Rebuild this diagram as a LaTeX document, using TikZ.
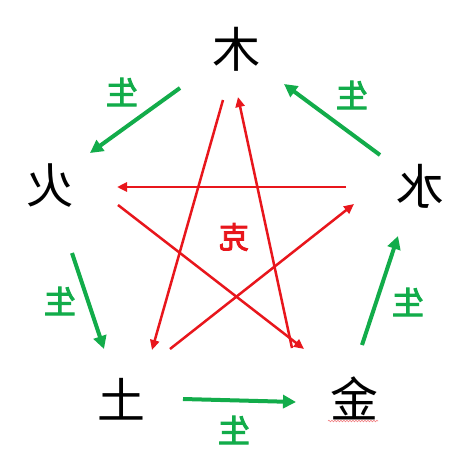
\documentclass[tikz,border=0pt]{standalone}
\usepackage{fontspec}
\newfontfamily\cjk{Noto Sans CJK SC}
\newfontfamily\cjkb[FakeBold=3]{Noto Sans CJK SC}
\usetikzlibrary{arrows.meta,decorations.pathmorphing}
\definecolor{gsheng}{RGB}{18,172,74}
\definecolor{rke}{RGB}{232,22,28}
\tikzset{
  elem/.style={inner sep=0pt, xscale=-1, font=\cjk\fontsize{48}{48}\selectfont},
  shenglabel/.style={inner sep=0pt, xscale=-1, text=gsheng, font=\cjkb\fontsize{32}{32}\selectfont},
  kelabel/.style={inner sep=0pt, xscale=-1, text=rke, font=\cjkb\fontsize{30}{30}\selectfont},
  sheng/.style={draw=gsheng, line width=4pt, -{Triangle[length=13pt,width=13pt]}},
  ke/.style={draw=rke, line width=2.5pt, -{Triangle[length=10pt,width=9pt]}}
}
\begin{document}
\begin{tikzpicture}[x=1pt,y=-1pt]
\fill[white] (0,0) rectangle (474,474);
\useasboundingbox (0,0) rectangle (474,474);
% elements
\node[elem] (mu) at (236,49) {木};
\node[elem] (huo) at (50,186) {火};
\node[elem] (shui) at (420,186) {水};
\node[elem] (tu) at (121,399) {土};
\node[elem] (jin) at (354,398) {金};
\draw[rke!55, line width=0.6pt, decorate, decoration={snake, amplitude=0.8pt, segment length=3pt}] (328,421) -- (378,421);
% sheng labels
\node[shenglabel] (s1) at (122,92) {生};
\node[shenglabel] (s2) at (352,95) {生};
\node[shenglabel] (s3) at (60,301) {生};
\node[shenglabel] (s4) at (408,302) {生};
\node[shenglabel] (s5) at (234,430) {生};
\node[kelabel] (ke) at (234,237) {克};
% endpoints
\coordinate (a1s) at (180,88);  \coordinate (a1e) at (90,153);
\coordinate (a2s) at (380,155); \coordinate (a2e) at (284,84);
\coordinate (a3s) at (72,253);  \coordinate (a3e) at (104,349);
\coordinate (a4s) at (183,399); \coordinate (a4e) at (296,402);
\coordinate (a5s) at (362,345); \coordinate (a5e) at (398,236);
% green sheng arrows
\draw[sheng] (a1s) -- (a1e);
\draw[sheng] (a2s) -- (a2e);
\draw[sheng] (a3s) -- (a3e);
\draw[sheng] (a4s) -- (a4e);
\draw[sheng] (a5s) -- (a5e);
% red ke arrows
\coordinate (k1s) at (346,187); \coordinate (k1e) at (117,187);
\coordinate (k2s) at (118,205); \coordinate (k2e) at (304,349);
\coordinate (k3s) at (292,348); \coordinate (k3e) at (238,97);
\coordinate (k4s) at (223,100); \coordinate (k4e) at (152,350);
\coordinate (k5s) at (170,349); \coordinate (k5e) at (354,204);
\draw[ke] (k1s) -- (k1e);
\draw[ke] (k2s) -- (k2e);
\draw[ke] (k3s) -- (k3e);
\draw[ke] (k4s) -- (k4e);
\draw[ke] (k5s) -- (k5e);
\end{tikzpicture}
\end{document}
